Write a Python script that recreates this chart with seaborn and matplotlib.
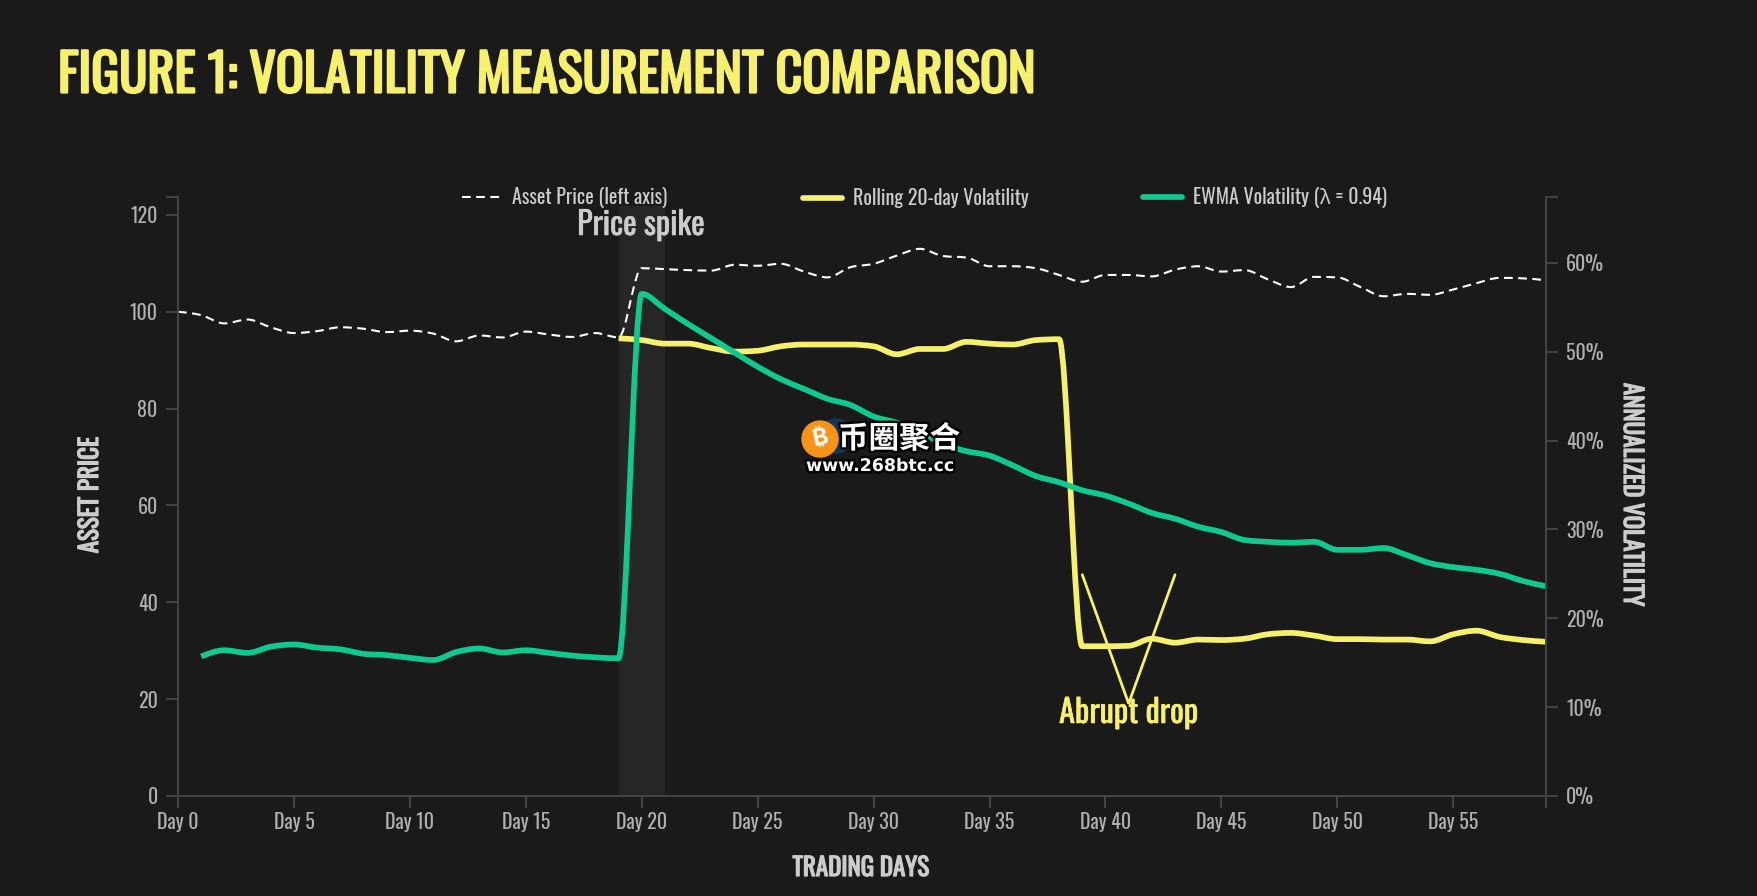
import matplotlib
matplotlib.use("Agg")
import matplotlib.pyplot as plt
import matplotlib.patches as mpatches
import matplotlib.patheffects as pe
from matplotlib.path import Path
import numpy as np
import pandas as pd
import seaborn as sns

days = list(range(60))
asset_price = [100, 99.3, 97.6, 98.4, 96.8, 95.6, 96, 96.8, 96.5, 95.8,
               96.1, 95.5, 93.9, 95.1, 94.7, 95.9, 95.3, 94.8, 95.6, 94.7,
               109, 108.8, 108.6, 108.5, 109.7, 109.5, 109.9, 108.3, 107.1, 109.2,
               109.9, 111.6, 113, 111.5, 111.2, 109.4, 109.4, 109, 107.6, 106.2,
               107.6, 107.6, 107.3, 108.7, 109.4, 108.3, 108.6, 106.7, 105.1, 107.2,
               107.1, 105.1, 103.2, 103.7, 103.5, 104.6, 105.9, 107, 106.9, 106.5]
rolling_days = list(range(19, 60))
rolling_vol = [51.5, 51.3, 50.9, 50.9, 50.4, 50, 50.1, 50.6, 50.8, 50.8,
               50.8, 50.6, 49.7, 50.3, 50.3, 51.1, 50.9, 50.8, 51.3, 51.4,
               16.85, 16.85, 16.9, 17.7, 17.25, 17.6, 17.55, 17.7, 18.2, 18.35,
               18.05, 17.65, 17.65, 17.6, 17.6, 17.4, 18.2, 18.6, 17.9, 17.55, 17.35]
ewma_days = list(range(1, 60))
ewma_vol = [15.7, 16.4, 16.1, 16.8, 17.05, 16.7, 16.5, 16, 15.85, 15.55,
            15.3, 16.2, 16.6, 16.15, 16.4, 16.1, 15.8, 15.6, 15.5, 56.5,
            54.8, 53.1, 51.5, 49.9, 48.3, 46.9, 45.8, 44.7, 44, 42.7,
            42, 41, 39.6, 38.8, 38.3, 37.2, 36, 35.3, 34.4, 33.8,
            32.9, 31.85, 31.2, 30.3, 29.7, 28.8, 28.6, 28.5, 28.6, 27.7,
            27.7, 27.9, 27.1, 26.2, 25.75, 25.45, 25, 24.2, 23.6]
arrow_days = [39, 41, 43]
arrow_vol = [24.9, 10.4, 24.9]
legend_names = ["Asset Price (left axis)", "Rolling 20-day Volatility", "EWMA Volatility (\u03bb = 0.94)"]

BG = "#1a1a1a"
YELLOW = "#f7f06d"
GREEN = "#10c98f"
AXIS = "#444444"
TICK = "#b0b0b0"
LABEL = "#cccccc"
W, H = 1758, 896


def curve_line(a, line, ls="-"):
    # swap the straight segments for a monotone bezier through the same points
    x, y = line.get_xydata().T
    h = np.diff(x)
    s = np.diff(y) / h
    t = np.zeros(len(x))
    for i in range(1, len(x) - 1):
        p = (s[i - 1] * h[i] + s[i] * h[i - 1]) / (h[i - 1] + h[i])
        t[i] = (np.sign(s[i - 1]) + np.sign(s[i])) * min(abs(s[i - 1]), abs(s[i]), 0.5 * abs(p))
    t[0] = (3 * s[0] - t[1]) / 2
    t[-1] = (3 * s[-1] - t[-2]) / 2
    verts = [(x[0], y[0])]
    codes = [Path.MOVETO]
    for i in range(len(h)):
        verts += [(x[i] + h[i] / 3, y[i] + h[i] / 3 * t[i]),
                  (x[i + 1] - h[i] / 3, y[i + 1] - h[i] / 3 * t[i + 1]),
                  (x[i + 1], y[i + 1])]
        codes += [Path.CURVE4] * 3
    a.add_patch(mpatches.PathPatch(Path(verts, codes), fill=False, ec=line.get_color(),
                                   lw=line.get_linewidth(), ls=ls, joinstyle="round",
                                   capstyle="butt", zorder=line.get_zorder()))
    line.remove()


def heavy(width, color):
    # Oswald only comes in its regular cut here, so thicken it with a stroke
    return [pe.withStroke(linewidth=width, foreground=color)]


sns.set_style("dark", {"axes.facecolor": BG, "figure.facecolor": BG})
plt.rcParams["font.family"] = ["Oswald", "Noto Sans CJK SC", "DejaVu Sans"]

fig = plt.figure(figsize=(W / 100, H / 100), dpi=100)
ax = fig.add_axes([178 / W, 1 - 796 / H, (1546 - 178) / W, (796 - 197) / H])
ax2 = ax.twinx()

# band behind the price jump
ax.axvspan(19, 21, ymax=0.985, color="#262626", lw=0, zorder=0)

price_df = pd.DataFrame({"day": days, "price": asset_price})
roll_df = pd.DataFrame({"day": rolling_days, "vol": rolling_vol})
ewma_df = pd.DataFrame({"day": ewma_days, "vol": ewma_vol})

price_dash = (0, (4.2, 2.6))
sns.lineplot(data=price_df, x="day", y="price", ax=ax, color="white", lw=1.5,
             linestyle=price_dash, legend=False)
sns.lineplot(data=roll_df, x="day", y="vol", ax=ax2, color=YELLOW, lw=4.1, legend=False)
sns.lineplot(data=ewma_df, x="day", y="vol", ax=ax2, color=GREEN, lw=4.1, legend=False)

ax.set_xlim(0, 59)
ax.set_ylim(0, 123.7)
ax2.set_ylim(0, 67.4)

ax.set_xticks(range(0, 60, 5))
ax.set_xticklabels([f"Day {d}" for d in range(0, 60, 5)])
ax.set_xticks([59], minor=True)
ax.set_yticks(range(0, 121, 20))
ax.set_yticks([123.7], minor=True)
ax2.set_yticks(range(0, 61, 10))
ax2.set_yticklabels([f"{v}%" for v in range(0, 61, 10)])
ax2.set_yticks([67.4], minor=True)

ax.set_xlabel("")
ax.set_ylabel("")
ax2.set_xlabel("")
ax2.set_ylabel("")

for a in (ax, ax2):
    a.grid(False)
    a.spines["top"].set_visible(False)
    for s in ("left", "right", "bottom"):
        a.spines[s].set_color(AXIS)
        a.spines[s].set_linewidth(1.4)
    a.tick_params(which="both", length=8.6, width=1.4, color=AXIS, labelcolor=TICK,
                  labelsize=14.4, bottom=True, pad=6)
ax2.set_facecolor("none")
ax.tick_params(axis="x", pad=3)

fig.text(58 / W, 1 - 76 / H, "FIGURE 1: VOLATILITY MEASUREMENT COMPARISON", color=YELLOW,
         fontsize=37.5, va="center", ha="left", path_effects=heavy(1.6, YELLOW))
fig.text(90 / W, 1 - 495 / H, "ASSET PRICE", color=LABEL, fontsize=18,
         rotation=90, va="center", ha="center", path_effects=heavy(0.9, LABEL))
fig.text(1632 / W, 1 - 495 / H, "ANNUALIZED VOLATILITY", color=LABEL, fontsize=18,
         rotation=270, va="center", ha="center", path_effects=heavy(0.9, LABEL))
fig.text(861 / W, 1 - 868 / H, "TRADING DAYS", color=LABEL, fontsize=18,
         va="center", ha="center", path_effects=heavy(0.9, LABEL))

fig.text(641 / W, 1 - 225 / H, "Price spike", color=LABEL, fontsize=23, va="center", ha="center",
         zorder=5, path_effects=heavy(0.4, LABEL))
ax2.text(41, 9.34, "Abrupt drop", color=YELLOW, fontsize=23.2, va="center", ha="center",
         path_effects=heavy(0.4, YELLOW))

# three separate legends, each entry sits at its own fixed spot
legend_lines = [ax.get_lines()[0], ax2.get_lines()[0], ax2.get_lines()[1]]
legend_x = [462, 803, 1143]
for line, name, lx in zip(legend_lines, legend_names, legend_x):
    fig.legend([line], [name], loc="center left", bbox_to_anchor=(lx / W, 1 - 198 / H),
               frameon=False, borderpad=0, borderaxespad=0, handlelength=1.95, handletextpad=0.56,
               fontsize=14.4, labelcolor=LABEL)

curve_line(ax, legend_lines[0], price_dash)
curve_line(ax2, legend_lines[1])
curve_line(ax2, legend_lines[2])
ax2.plot(arrow_days, arrow_vol, color=YELLOW, lw=2, solid_joinstyle="miter")

# site watermark that sits over the chart
mark = fig.dpi_scale_trans
ax2.add_patch(mpatches.Circle((8.36, H / 100 - 4.36), 0.17, transform=mark, color="#0d3a5c", clip_on=False, zorder=8))
ax2.add_patch(mpatches.Circle((8.2, H / 100 - 4.39), 0.18, transform=mark, color="#f7931a", clip_on=False, zorder=9))
fig.text(820 / W, 1 - 439 / H, "\u20bf", color="white", fontsize=17, fontweight="bold", rotation=12,
         family=["Inter", "Roboto", "Noto Sans", "DejaVu Sans"], va="center", ha="center", zorder=10)
outline = [pe.withStroke(linewidth=3.5, foreground="black")]
fig.text(838 / W, 1 - 439 / H, "\u5e01\u5708\u805a\u5408", color="white", fontsize=22, fontweight="bold",
         family=["Noto Sans CJK SC"], va="center", ha="left", path_effects=outline, zorder=10)
fig.text(880 / W, 1 - 466 / H, "www.268btc.cc", color="white", fontsize=12.5, fontweight="bold",
         family=["DejaVu Sans"], va="center", ha="center", path_effects=outline, zorder=10)

fig.savefig("out.png", dpi=100, facecolor=BG)
